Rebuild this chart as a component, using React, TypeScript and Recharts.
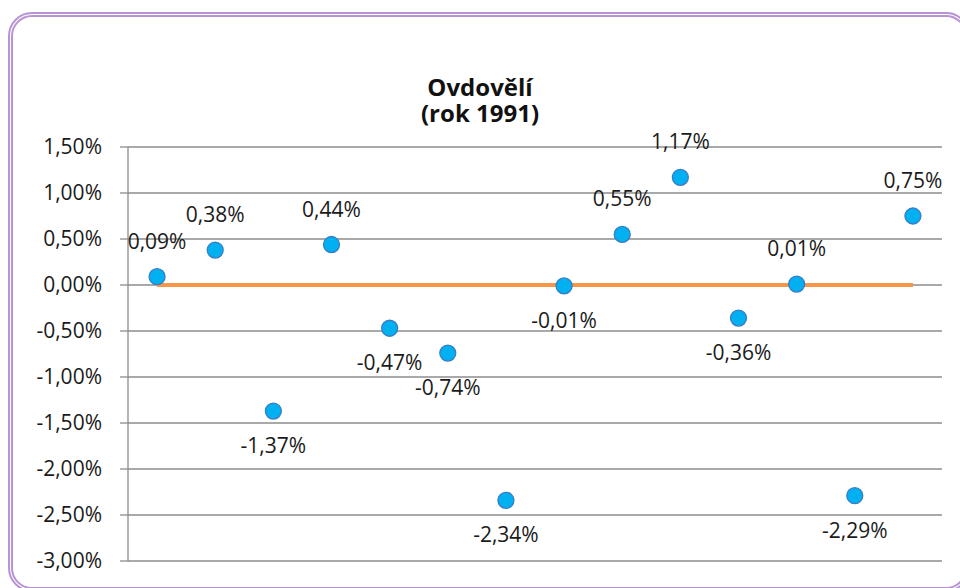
import { ComposedChart, Line, XAxis, YAxis, CartesianGrid, LabelList } from 'recharts';

const categories = [1, 2, 3, 4, 5, 6, 7, 8, 9, 10, 11, 12, 13, 14];
const values = [0.09, 0.38, -1.37, 0.44, -0.47, -0.74, -2.34, -0.01, 0.55, 1.17, -0.36, 0.01, -2.29, 0.75];
const baseline = [0, 0, 0, 0, 0, 0, 0, 0, 0, 0, 0, 0, 0, 0];
const yTicks = [-3, -2.5, -2, -1.5, -1, -0.5, 0, 0.5, 1, 1.5];
const titleLines = ['Ovdovělí', '(rok 1991)'];

const data = categories.map((c, i) => ({ cat: c, value: values[i], zero: baseline[i] }));

const fmt = (v: number) => {
  const s = Math.abs(v) < 1e-9 ? '0,00' : v.toFixed(2).replace('.', ',');
  return s + '%';
};

const FONT = '"Open Sans", sans-serif';

const PointLabel = (props: any) => {
  const { x, y, value } = props;
  const dy = value >= 0 ? -28 : 42;
  return (
    <text x={x} y={y + dy} textAnchor="middle" fontFamily={FONT} fontSize={21} fill="#1a1a1a">
      {fmt(value)}
    </text>
  );
};

export default function App() {
  return (
    <div style={{ position: 'fixed', left: 0, top: 0, width: 960, height: 588, overflow: 'hidden', background: '#fff' }}>
      <div
        style={{
          position: 'absolute',
          left: 8,
          top: 12,
          width: 962,
          height: 580,
          boxSizing: 'border-box',
          border: '5px double #b794d6',
          borderRadius: 24,
        }}
      />
      <div
        style={{
          position: 'absolute',
          left: 0,
          top: 74,
          width: 960,
          textAlign: 'center',
          fontFamily: FONT,
          fontWeight: 700,
          fontSize: 24,
          lineHeight: '26px',
          color: '#111',
        }}
      >
        {titleLines[0]}
        <br />
        {titleLines[1]}
      </div>
      <div style={{ position: 'absolute', left: 0, top: 0 }}>
        <ComposedChart width={960} height={588} data={data} margin={{ top: 147, right: 18, bottom: 27, left: 0 }}>
          <CartesianGrid vertical={false} stroke="#8c8c8c" strokeWidth={1.3} />
          <XAxis dataKey="cat" type="number" domain={[0.5, 14.5]} hide />
          <YAxis
            width={128}
            domain={[-3, 1.5]}
            ticks={yTicks}
            interval={0}
            tickFormatter={fmt}
            tick={{ fontFamily: FONT, fontSize: 21, fill: '#1a1a1a' }}
            tickSize={8}
            tickMargin={18}
            axisLine={{ stroke: '#8c8c8c', strokeWidth: 1.3 }}
            tickLine={{ stroke: '#8c8c8c', strokeWidth: 1.3 }}
          />
          <Line
            dataKey="zero"
            stroke="#f79646"
            strokeWidth={4}
            dot={false}
            activeDot={false}
            isAnimationActive={false}
          />
          <Line
            dataKey="value"
            stroke="none"
            dot={{ r: 8, fill: '#00b0f0', stroke: '#3b7dc4', strokeWidth: 1.3 }}
            activeDot={false}
            isAnimationActive={false}
          >
            <LabelList dataKey="value" content={PointLabel} />
          </Line>
        </ComposedChart>
      </div>
    </div>
  );
}
